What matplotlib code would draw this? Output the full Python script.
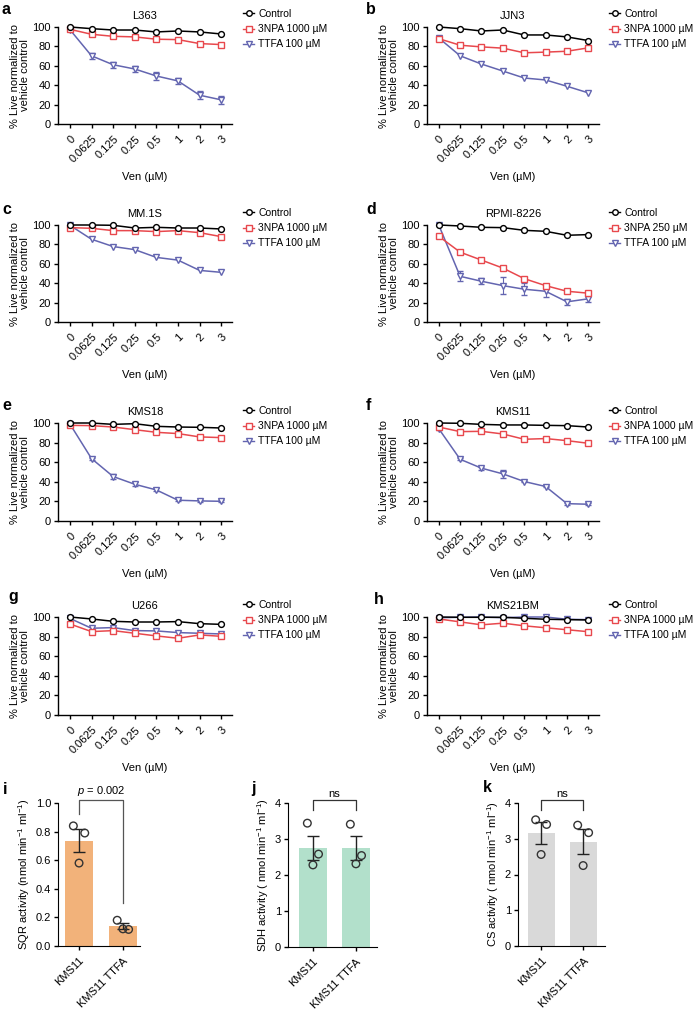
import matplotlib
matplotlib.use("Agg")
import matplotlib.pyplot as plt
import numpy as np
from matplotlib.lines import Line2D

plt.rcParams['font.family'] = ['Liberation Sans', 'DejaVu Sans']
plt.rcParams['mathtext.fontset'] = 'custom'
plt.rcParams['mathtext.rm'] = 'Liberation Sans'
plt.rcParams['mathtext.it'] = 'Liberation Sans:italic'

# ---------------- data ----------------
ven_labels = ['0', '0.0625', '0.125', '0.25', '0.5', '1', '2', '3']

titles = ['L363', 'JJN3', 'MM.1S', 'RPMI-8226', 'KMS18', 'KMS11', 'U266', 'KMS21BM']
letters = ['a', 'b', 'c', 'd', 'e', 'f', 'g', 'h']
npa_labels = ['3NPA 1000 µM', '3NPA 1000 µM', '3NPA 1000 µM', '3NPA 250 µM',
              '3NPA 1000 µM', '3NPA 1000 µM', '3NPA 1000 µM', '3NPA 1000 µM']

ctrl_L363 = [100, 98.3, 96.9, 96.9, 94.9, 95.9, 94.9, 92.8]
npa_L363 = [97.6, 92.5, 90.4, 89.8, 87.4, 87.0, 82.9, 81.9]
ttfa_L363 = [97.3, 70.3, 61.1, 56.7, 49.5, 44.4, 29.7, 24.9]
ttfa_err_L363 = [1, 3, 3, 3, 4, 3, 4, 4]

ctrl_JJN3 = [100, 98.3, 95.9, 96.9, 91.8, 91.8, 89.8, 86.0]
npa_JJN3 = [88.0, 81.2, 79.5, 78.2, 73.4, 74.1, 75.0, 78.5]
ttfa_JJN3 = [88.7, 70.3, 61.8, 54.6, 47.4, 45.4, 38.9, 32.1]
npa_err_JJN3 = [1, 1, 1, 1, 1, 1, 2, 2.5]

ctrl_MM1S = [100, 100, 99.7, 96.9, 97.6, 96.9, 96.9, 95.9]
npa_MM1S = [97.3, 96.6, 94.2, 94.2, 93.2, 94.2, 92.1, 88.0]
ttfa_MM1S = [99.7, 85.3, 77.8, 74.6, 66.6, 63.8, 53.2, 51.2]

ctrl_RPMI = [100, 99.0, 97.6, 97.3, 94.5, 93.5, 89.4, 90.1]
npa_RPMI = [88.4, 72.0, 63.8, 55.6, 44.7, 37.5, 31.7, 29.7]
ttfa_RPMI = [100, 47.1, 42.0, 37.5, 33.8, 31.7, 20.8, 23.9]
ttfa_err_RPMI = [0, 5, 3, 9, 6, 6, 3, 3]

ctrl_KMS18 = [100, 100, 98.6, 99.3, 96.6, 95.9, 95.6, 94.9]
npa_KMS18 = [97.6, 97.3, 95.9, 93.2, 90.5, 89.2, 85.8, 85.1]
ttfa_KMS18 = [99.0, 63.7, 45.4, 37.5, 31.7, 21.2, 20.5, 20.1]
ttfa_err_KMS18 = [0, 1, 2.5, 2, 1.5, 1, 1, 1]

ctrl_KMS11 = [100, 99.7, 98.6, 98.0, 98.0, 97.6, 97.3, 95.9]
npa_KMS11 = [95.9, 91.2, 91.5, 88.8, 83.4, 84.1, 82.0, 79.3]
ttfa_KMS11 = [94.2, 63.0, 53.9, 48.1, 40.3, 35.2, 17.7, 17.1]
ttfa_err_KMS11 = [1, 1, 1.5, 4, 1, 1, 1, 1]

ctrl_U266 = [100, 98.0, 95.6, 94.9, 94.9, 95.3, 93.2, 92.5]
npa_U266 = [92.9, 85.1, 86.1, 83.4, 80.7, 78.3, 81.7, 80.3]
ttfa_U266 = [98.6, 88.5, 89.2, 86.1, 85.8, 84.1, 83.4, 82.7]

ctrl_KMS21BM = [100, 99.7, 99.7, 99.7, 98.7, 97.7, 97.3, 97.0]
npa_KMS21BM = [98.0, 95.0, 92.0, 93.7, 91.0, 89.0, 87.0, 85.0]
ttfa_KMS21BM = [99.3, 99.7, 100, 99.3, 100, 100, 97.7, 97.3]

panels = [
    (ctrl_L363, npa_L363, ttfa_L363, None, ttfa_err_L363),
    (ctrl_JJN3, npa_JJN3, ttfa_JJN3, npa_err_JJN3, None),
    (ctrl_MM1S, npa_MM1S, ttfa_MM1S, None, None),
    (ctrl_RPMI, npa_RPMI, ttfa_RPMI, None, ttfa_err_RPMI),
    (ctrl_KMS18, npa_KMS18, ttfa_KMS18, None, ttfa_err_KMS18),
    (ctrl_KMS11, npa_KMS11, ttfa_KMS11, None, ttfa_err_KMS11),
    (ctrl_U266, npa_U266, ttfa_U266, None, None),
    (ctrl_KMS21BM, npa_KMS21BM, ttfa_KMS21BM, None, None),
]

bar_cats = ['KMS11', 'KMS11 TTFA']
sqr_mean = [0.737, 0.139]
sqr_sem = [0.08, 0.02]
sqr_pts = [[0.84, 0.79, 0.58], [0.18, 0.116, 0.12]]
sdh_mean = [2.76, 2.75]
sdh_sem = [0.33, 0.32]
sdh_pts = [[3.44, 2.58, 2.28], [3.41, 2.54, 2.31]]
cs_mean = [3.16, 2.92]
cs_sem = [0.30, 0.36]
cs_pts = [[3.53, 3.40, 2.56], [3.38, 3.17, 2.25]]

# ---------------- figure ----------------
W, H = 696, 1009
fig = plt.figure(figsize=(W / 100, H / 100), dpi=100)

def ax_px(x0, x1, ytop, ybot):
    return fig.add_axes([x0 / W, 1 - ybot / H, (x1 - x0) / W, (ybot - ytop) / H])

RED = '#E8484D'
BLUE = '#6365B0'
FS = 8
LFS = 7.5

col_x = [(58, 232), (427, 599)]
row_y = [(27, 124), (225, 322), (423, 521), (617, 715)]
leg_x = [243, 609]
leg_y = [9, 208, 406, 600]
let_pos = [(2, 10), (366, 10), (2, 209), (366, 209), (2, 406), (366, 406), (8, 596), (374, 599)]

x = np.arange(len(ven_labels))
for i, (ctrl, npa, ttfa, npa_err, ttfa_err) in enumerate(panels):
    r, c = divmod(i, 2)
    ax = ax_px(col_x[c][0], col_x[c][1], row_y[r][0], row_y[r][1])
    ax.errorbar(x, ttfa, yerr=ttfa_err, color=BLUE, marker='v', mfc='white', mec=BLUE,
                ms=4.5, lw=1.1, capsize=2, elinewidth=0.8, clip_on=False, zorder=3)
    ax.errorbar(x, npa, yerr=npa_err, color=RED, marker='s', mfc='white', mec=RED,
                ms=4.2, lw=1.1, capsize=2, elinewidth=0.8, clip_on=False, zorder=4)
    ax.plot(x, ctrl, color='black', marker='o', mfc='white', mec='black',
            ms=4.2, lw=1.1, clip_on=False, zorder=5)
    ax.set_ylim(0, 100)
    ax.set_xlim(-0.55, 7.5)
    ax.set_yticks([0, 20, 40, 60, 80, 100])
    ax.set_xticks(x)
    ax.set_xticklabels(ven_labels, rotation=45, ha='right', rotation_mode='anchor')
    ax.tick_params(labelsize=FS, width=1, length=3, pad=2)
    ax.tick_params(axis='x', pad=4)
    for s in ['top', 'right']:
        ax.spines[s].set_visible(False)
    for s in ['left', 'bottom']:
        ax.spines[s].set_linewidth(1)
    ax.set_title(titles[i], fontsize=FS, pad=6)
    ax.set_ylabel('% Live normalized to\nvehicle control', fontsize=FS, labelpad=2, linespacing=1.0)
    ax.set_xlabel('Ven (µM)', fontsize=FS, labelpad=5)
    handles = [
        Line2D([], [], color='black', marker='o', mfc='white', ms=4, lw=1),
        Line2D([], [], color=RED, marker='s', mfc='white', ms=4, lw=1),
        Line2D([], [], color=BLUE, marker='v', mfc='white', ms=4, lw=1),
    ]
    ax.legend(handles, ['Control', npa_labels[i], 'TTFA 100 µM'], loc='upper left',
              bbox_to_anchor=(leg_x[c] / W, 1 - leg_y[r] / H), bbox_transform=fig.transFigure,
              frameon=False, fontsize=LFS, handlelength=1.1, handletextpad=0.35,
              labelspacing=0.5, borderpad=0, borderaxespad=0)
    fig.text(let_pos[i][0] / W, 1 - let_pos[i][1] / H, letters[i], fontsize=11.5,
             fontweight='bold', va='center', ha='left')

# ---------------- bar panels ----------------
bar_specs = [
    (sqr_mean, sqr_sem, sqr_pts, '#F2B27A', (58, 140, 803, 946), (-0.48, 1.39),
     (0, 1.0), [0, 0.2, 0.4, 0.6, 0.8, 1.0], '%.1f',
     'SQR activity (nmol min$^{-1}$ ml$^{-1}$)', 'i', (3, 790)),
    (sdh_mean, sdh_sem, sdh_pts, '#B2E0CB', (288, 377, 803, 947), (-0.58, 1.49),
     (0, 4), [0, 1, 2, 3, 4], '%d',
     'SDH activity ( nmol min$^{-1}$ ml$^{-1}$)', 'j', (251, 789)),
    (cs_mean, cs_sem, cs_pts, '#D9D9D9', (518, 605, 803, 946), (-0.55, 1.52),
     (0, 4), [0, 1, 2, 3, 4], '%d',
     'CS activity ( nmol min$^{-1}$ ml$^{-1}$)', 'k', (483, 787)),
]

offsets = [-0.13, 0.13, 0.0]
for k, (mean, sem, pts, color, box, xl, yl, yt, fmt, ylab, let, lp) in enumerate(bar_specs):
    ax = ax_px(box[0], box[1], box[2], box[3])
    xb = np.arange(len(bar_cats))
    ax.bar(xb, mean, width=0.64, color=color, zorder=1)
    ax.errorbar(xb, mean, yerr=sem, fmt='none', ecolor='#222222', elinewidth=1,
                capsize=4.5, capthick=1, zorder=2)
    for j in range(len(bar_cats)):
        ax.scatter(xb[j] + np.array(offsets), pts[j], s=30, facecolor='none',
                   edgecolor='#333333', linewidth=1, zorder=3, clip_on=False)
    ax.set_xlim(*xl)
    ax.set_ylim(*yl)
    ax.set_yticks(yt)
    ax.set_yticklabels([fmt % v for v in yt])
    ax.set_xticks(xb)
    ax.set_xticklabels(bar_cats, rotation=45, ha='right', rotation_mode='anchor')
    ax.tick_params(labelsize=FS, width=1, length=3, pad=2)
    ax.tick_params(axis='x', pad=4)
    for s in ['top', 'right']:
        ax.spines[s].set_visible(False)
    ax.set_ylabel(ylab, fontsize=FS, labelpad=3)
    fig.text(lp[0] / W, 1 - lp[1] / H, let, fontsize=11.5, fontweight='bold',
             va='center', ha='left')
    if k == 0:
        ax.plot([0, 0, 1, 1], [0.92, 1.02, 1.02, 0.3], color='#555555', lw=0.9, clip_on=False)
        ax.text(0.5, 1.035, '$p$ = 0.002', ha='center', va='bottom', fontsize=FS)
    else:
        ax.plot([0, 0, 1, 1], [3.81, 4.07, 4.07, 3.81], color='#333333', lw=0.9, clip_on=False)
        ax.text(0.5, 4.12, 'ns', ha='center', va='bottom', fontsize=FS)

fig.savefig('out.png', dpi=100)
